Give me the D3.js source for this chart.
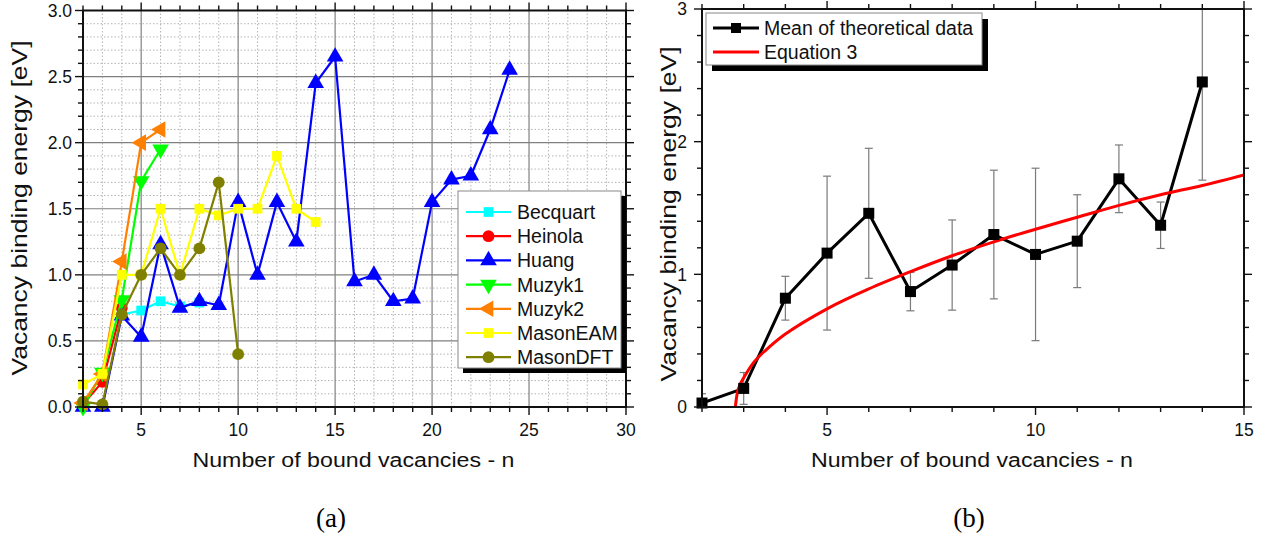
<!DOCTYPE html>
<html>
<head>
<meta charset="utf-8">
<script src="https://cdn.jsdelivr.net/npm/d3@7"></script>
<style>
  html, body { margin: 0; padding: 0; background: #fff; }
  svg { display: block; font-family: "Liberation Sans", Arial, sans-serif; }
</style>
</head>
<body>
<svg id="fig" width="1271" height="539"></svg>
<script>
// ---------- (a) binding energies reported by each model ----------
const becquartN = [4, 5, 6, 7, 8];
const becquartE = [0.70, 0.73, 0.80, 0.76, 0.79];
const heinolaN = [2, 3, 4];
const heinolaE = [0.02, 0.19, 0.75];
const huangN = [2, 3, 4, 5, 6, 7, 8, 9, 10, 11, 12, 13, 14, 15, 16, 17, 18, 19, 20, 21, 22, 23, 24];
const huangE = [0.00, 0.00, 0.69, 0.53, 1.23, 0.75, 0.80, 0.77, 1.55, 1.00, 1.55, 1.25, 2.45, 2.65, 0.95, 1.00, 0.80, 0.82, 1.55, 1.72, 1.75, 2.10, 2.55];
const muzyk1N = [2, 3, 4, 5, 6];
const muzyk1E = [0.00, 0.26, 0.81, 1.71, 1.95];
const muzyk2N = [2, 3, 4, 5, 6];
const muzyk2E = [0.03, 0.25, 1.10, 2.00, 2.10];
const masonEamN = [2, 3, 4, 5, 6, 7, 8, 9, 10, 11, 12, 13, 14];
const masonEamE = [0.17, 0.25, 1.00, 1.00, 1.50, 1.00, 1.50, 1.45, 1.50, 1.50, 1.90, 1.50, 1.40];
const masonDftN = [2, 3, 4, 5, 6, 7, 8, 9, 10];
const masonDftE = [0.04, 0.02, 0.70, 1.00, 1.20, 1.00, 1.20, 1.70, 0.40];

const seriesNames = ["Becquart", "Heinola", "Huang", "Muzyk1", "Muzyk2", "MasonEAM", "MasonDFT"];
const seriesColors = ["#00ffff", "#ff0000", "#0000ff", "#00ff00", "#ff8000", "#ffff00", "#808000"];
const seriesMarkers = ["square", "circle", "triUp", "triDown", "triLeft", "square", "circle"];
const seriesN = [becquartN, heinolaN, huangN, muzyk1N, muzyk2N, masonEamN, masonDftN];
const seriesE = [becquartE, heinolaE, huangE, muzyk1E, muzyk2E, masonEamE, masonDftE];

// (a) axis ticks
const aXMajor = [5, 10, 15, 20, 25, 30];
const aXMinor = d3.range(2, 31, 1);
const aYMajor = [0, 0.5, 1.0, 1.5, 2.0, 2.5, 3.0];
const aYMinor = d3.range(0, 31, 1).map(d => d / 10);

// ---------- (b) mean of the models and fitted equation ----------
const meanN = [2, 3, 4, 5, 6, 7, 8, 9, 10, 11, 12, 13, 14];
const meanE = [0.03, 0.14, 0.82, 1.16, 1.46, 0.87, 1.07, 1.30, 1.15, 1.25, 1.72, 1.37, 2.45];
const meanErr = [0.07, 0.12, 0.165, 0.58, 0.49, 0.145, 0.34, 0.485, 0.65, 0.35, 0.255, 0.175, 0.74];
const eqN = [2.8, 2.85, 2.9, 3.0, 3.25, 3.5, 4, 5, 6, 7, 8, 9, 10, 11, 12, 13, 14, 15];
const eqE = [0.00, 0.11, 0.16, 0.22, 0.34, 0.42, 0.55, 0.74, 0.89, 1.02, 1.14, 1.245, 1.34, 1.43, 1.52, 1.60, 1.67, 1.75];

const bXMajor = [5, 10, 15];
const bXMinor = d3.range(2, 16, 1);
const bYMajor = [0, 1, 2, 3];
const bYMinor = d3.range(0, 16, 1).map(d => d / 5);

const svg = d3.select("#fig");
const TXT = "#111";
const TICK_FONT = 17.5;
const LEGEND_FONT = 19.5;

function symbolPath(kind, size) {
  const map = { square: d3.symbolSquare, circle: d3.symbolCircle,
                triUp: d3.symbolTriangle, triDown: d3.symbolTriangle, triLeft: d3.symbolTriangle };
  return d3.symbol().type(map[kind]).size(size)();
}
function symbolRot(kind) {
  return kind === "triDown" ? 180 : kind === "triLeft" ? -90 : 0;
}
function markerSize(kind) {
  return kind === "square" ? 95 : kind === "circle" ? 110 : 120;
}

// Box with outward ticks on all four sides
function frame(g, x, y, xMaj, xMin, yMaj, yMin, xFmt, yFmt, yLabelPad) {
  const [x0, x1] = x.range();
  const [yb, yt] = y.range();
  const tickG = g.append("g").attr("stroke", "#111").attr("stroke-width", 1.4);
  const isMaj = (arr, v) => arr.some(m => Math.abs(m - v) < 1e-9);
  xMin.forEach(v => {
    const L = isMaj(xMaj, v) ? 8 : 5;
    const px = x(v);
    tickG.append("line").attr("x1", px).attr("x2", px).attr("y1", yb).attr("y2", yb + L);
    tickG.append("line").attr("x1", px).attr("x2", px).attr("y1", yt).attr("y2", yt - L);
  });
  yMin.forEach(v => {
    const L = isMaj(yMaj, v) ? 8 : 5;
    const py = y(v);
    tickG.append("line").attr("x1", x0).attr("x2", x0 - L).attr("y1", py).attr("y2", py);
    tickG.append("line").attr("x1", x1).attr("x2", x1 + L).attr("y1", py).attr("y2", py);
  });
  g.append("rect").attr("x", x0).attr("y", yt).attr("width", x1 - x0).attr("height", yb - yt)
    .attr("fill", "none").attr("stroke", "#111").attr("stroke-width", 2);
  const lab = g.append("g").attr("font-size", TICK_FONT).attr("fill", TXT);
  xMaj.forEach(v => {
    lab.append("text").attr("x", x(v)).attr("y", yb + 28.5).attr("text-anchor", "middle").text(xFmt(v));
  });
  yMaj.forEach(v => {
    lab.append("text").attr("x", x0 - yLabelPad).attr("y", y(v) + 6.3).attr("text-anchor", "end").text(yFmt(v));
  });
}

function titles(g, x, y, ytitleX, ytitleY) {
  const [x0, x1] = x.range();
  g.append("text").attr("x", (x0 + x1) / 2 - 1).attr("y", 467).attr("text-anchor", "middle")
    .attr("font-size", 20).attr("fill", TXT)
    .attr("textLength", 322).attr("lengthAdjust", "spacingAndGlyphs")
    .text("Number of bound vacancies - n");
  g.append("text").attr("transform", `translate(${ytitleX},${ytitleY}) rotate(-90)`)
    .attr("text-anchor", "middle").attr("font-size", 21.5).attr("fill", TXT)
    .attr("textLength", 335).attr("lengthAdjust", "spacingAndGlyphs")
    .text("Vacancy binding energy [eV]");
}

// ================= panel (a) =================
const xA = d3.scaleLinear().domain([2, 30]).range([83, 626]);
const yA = d3.scaleLinear().domain([0, 3]).range([407, 10.5]);
const gA = svg.append("g");

// grid
const gridA = gA.append("g");
aXMinor.filter(v => v > 2 && v < 30 && !aXMajor.includes(v)).forEach(v => {
  gridA.append("line").attr("x1", xA(v)).attr("x2", xA(v)).attr("y1", yA(0)).attr("y2", yA(3))
    .attr("stroke", "#b4b4b4").attr("stroke-width", 1).attr("stroke-dasharray", "1.5,2");
});
aYMinor.filter(v => v > 0 && v < 3 && !aYMajor.some(m => Math.abs(m - v) < 1e-9)).forEach(v => {
  gridA.append("line").attr("x1", xA(2)).attr("x2", xA(30)).attr("y1", yA(v)).attr("y2", yA(v))
    .attr("stroke", "#b4b4b4").attr("stroke-width", 1).attr("stroke-dasharray", "1.5,2");
});
aXMajor.filter(v => v < 30).forEach(v => {
  gridA.append("line").attr("x1", xA(v)).attr("x2", xA(v)).attr("y1", yA(0)).attr("y2", yA(3))
    .attr("stroke", "#808080").attr("stroke-width", 1.2);
});
aYMajor.filter(v => v > 0 && v < 3).forEach(v => {
  gridA.append("line").attr("x1", xA(2)).attr("x2", xA(30)).attr("y1", yA(v)).attr("y2", yA(v))
    .attr("stroke", "#808080").attr("stroke-width", 1.2);
});

// series
const lineA = d3.line().x(d => xA(d[0])).y(d => yA(d[1]));
seriesNames.forEach((name, i) => {
  const pts = seriesN[i].map((n, j) => [n, seriesE[i][j]]);
  const sg = gA.append("g");
  sg.append("path").attr("d", lineA(pts)).attr("fill", "none")
    .attr("stroke", seriesColors[i]).attr("stroke-width", 2.2).attr("stroke-linejoin", "round");
  sg.selectAll("path.m").data(pts).join("path").attr("class", "m")
    .attr("d", symbolPath(seriesMarkers[i], markerSize(seriesMarkers[i])))
    .attr("transform", d => `translate(${xA(d[0])},${yA(d[1])}) rotate(${symbolRot(seriesMarkers[i])})`)
    .attr("fill", seriesColors[i]);
});

frame(gA, xA, yA, aXMajor, aXMinor, aYMajor, aYMinor, d3.format("d"), d3.format(".1f"), 11);
titles(gA, xA, yA, 27, 208);

// legend (a)
const legA = gA.append("g");
legA.append("rect").attr("x", 463).attr("y", 196).attr("width", 163).attr("height", 177).attr("fill", "#000");
legA.append("rect").attr("x", 458).attr("y", 191).attr("width", 163).attr("height", 177)
  .attr("fill", "#fff").attr("stroke", "#888").attr("stroke-width", 1);
seriesNames.forEach((name, i) => {
  const cy = 212 + i * 24.2;
  legA.append("line").attr("x1", 466).attr("x2", 511).attr("y1", cy).attr("y2", cy)
    .attr("stroke", seriesColors[i]).attr("stroke-width", 2.2);
  legA.append("path").attr("d", symbolPath(seriesMarkers[i], markerSize(seriesMarkers[i])))
    .attr("transform", `translate(488.5,${cy}) rotate(${symbolRot(seriesMarkers[i])})`)
    .attr("fill", seriesColors[i]);
  legA.append("text").attr("x", 517).attr("y", cy + 7).attr("font-size", LEGEND_FONT).attr("fill", TXT).text(name);
});

// ================= panel (b) =================
const xB = d3.scaleLinear().domain([2, 15]).range([702, 1244]);
const yB = d3.scaleLinear().domain([0, 3]).range([407, 9]);
const gB = svg.append("g");
svg.append("defs").append("clipPath").attr("id", "clipB")
  .append("rect").attr("x", 702).attr("y", 9).attr("width", 542).attr("height", 398);

const plotB = gB.append("g").attr("clip-path", "url(#clipB)");

// error bars
const errG = plotB.append("g").attr("stroke", "#7a7a7a").attr("stroke-width", 1.2);
meanN.forEach((n, j) => {
  const px = xB(n), lo = yB(meanE[j] - meanErr[j]), hi = yB(meanE[j] + meanErr[j]);
  errG.append("line").attr("x1", px).attr("x2", px).attr("y1", lo).attr("y2", hi);
  errG.append("line").attr("x1", px - 4).attr("x2", px + 4).attr("y1", lo).attr("y2", lo);
  errG.append("line").attr("x1", px - 4).attr("x2", px + 4).attr("y1", hi).attr("y2", hi);
});

// mean line
const meanPts = meanN.map((n, j) => [n, meanE[j]]);
const lineB = d3.line().x(d => xB(d[0])).y(d => yB(d[1]));
plotB.append("path").attr("d", lineB(meanPts)).attr("fill", "none")
  .attr("stroke", "#000").attr("stroke-width", 3).attr("stroke-linejoin", "round");

// fitted equation
const eqPts = eqN.map((n, j) => [n, eqE[j]]);
plotB.append("path").attr("d", d3.line().curve(d3.curveCatmullRom.alpha(0.5))
    .x(d => xB(d[0])).y(d => yB(d[1]))(eqPts))
  .attr("fill", "none").attr("stroke", "#ff0000").attr("stroke-width", 3);

// mean markers drawn over the lines
gB.selectAll("rect.mk").data(meanPts).join("rect").attr("class", "mk")
  .attr("x", d => xB(d[0]) - 5.5).attr("y", d => yB(d[1]) - 5.5)
  .attr("width", 11).attr("height", 11).attr("fill", "#000");

frame(gB, xB, yB, bXMajor, bXMinor, bYMajor, bYMinor, d3.format("d"), d3.format("d"), 15);
titles(gB, xB, yB, 676, 214);

// legend (b)
const legB = gB.append("g");
legB.append("rect").attr("x", 712).attr("y", 19).attr("width", 276).attr("height", 52).attr("fill", "#000");
legB.append("rect").attr("x", 706).attr("y", 13).attr("width", 276).attr("height", 52)
  .attr("fill", "#fff").attr("stroke", "#888").attr("stroke-width", 1);
legB.append("line").attr("x1", 713).attr("x2", 759).attr("y1", 28).attr("y2", 28)
  .attr("stroke", "#000").attr("stroke-width", 3);
legB.append("rect").attr("x", 731).attr("y", 23).attr("width", 10).attr("height", 10).attr("fill", "#000");
legB.append("text").attr("x", 764).attr("y", 35).attr("font-size", LEGEND_FONT).attr("fill", TXT)
  .text("Mean of theoretical data");
legB.append("line").attr("x1", 713).attr("x2", 759).attr("y1", 52).attr("y2", 52)
  .attr("stroke", "#ff0000").attr("stroke-width", 3);
legB.append("text").attr("x", 764).attr("y", 59).attr("font-size", LEGEND_FONT).attr("fill", TXT)
  .text("Equation 3");

// panel captions
svg.append("text").attr("x", 331).attr("y", 527).attr("text-anchor", "middle")
  .attr("font-family", "'Liberation Serif', 'Times New Roman', serif").attr("font-size", 27)
  .attr("fill", "#000").text("(a)");
svg.append("text").attr("x", 969).attr("y", 527).attr("text-anchor", "middle")
  .attr("font-family", "'Liberation Serif', 'Times New Roman', serif").attr("font-size", 27)
  .attr("fill", "#000").text("(b)");
</script>
</body>
</html>
